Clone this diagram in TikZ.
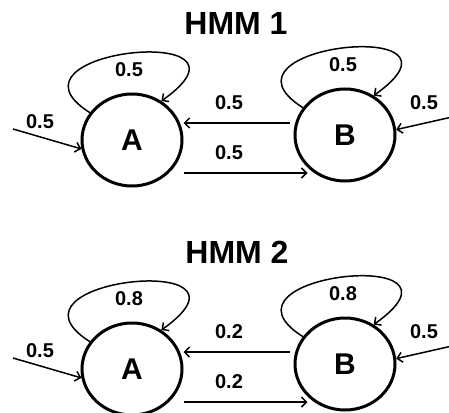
\documentclass[tikz,border=0pt]{standalone}
\usepackage{fontspec}
\setmainfont{Liberation Sans}
\usetikzlibrary{arrows.meta,shapes.geometric}

\tikzset{
	hmmstate/.style={ellipse, draw, line width=3pt, minimum width=100pt, minimum height=92pt, inner sep=0pt, font=\fontsize{30}{30}\selectfont\bfseries},
	hmmtitle/.style={font=\fontsize{32}{32}\selectfont\bfseries},
	prob/.style={font=\fontsize{20}{20}\selectfont\bfseries},
	arr/.style={line width=1.5pt, -{Straight Barb[length=5pt,width=10pt,line width=1.5pt]}}
}

\begin{document}
\begin{tikzpicture}[x=1pt, y=-1pt]
		%%%%% START %%%%%
		\useasboundingbox (0, 0) rectangle (449, 412);
		
		% HMM 1
		\node[hmmtitle] (t1) at (236, 23) {HMM 1};
		\node[hmmstate] (A1) at (132, 140) {A};
		\node[hmmstate] (B1) at (345, 135) {B};
		\coordinate (s1) at (13, 129);
		\coordinate (e1) at (452, 117);
		
		\draw[arr] (A1.147) .. controls +(-100, -63) and +(113, -80) .. (A1.53);
		\draw[arr] (B1.147) .. controls +(-100, -63) and +(113, -80) .. (B1.54);
		\draw[arr] ([xshift=-4pt, yshift=12pt]B1.west) -- ([yshift=17pt]A1.east);
		\draw[arr] ([yshift=-33pt]A1.east) -- ([xshift=14pt, yshift=-38pt]B1.west);
		\draw[arr] (s1) -- (A1.190);
		\draw[arr] (e1) -- (B1.6);
		
		\node[prob] (pa1) at (129, 70) {0.5};
		\node[prob] (pb1) at (343, 65) {0.5};
		\node[prob] (pba1) at (229, 103) {0.5};
		\node[prob] (pab1) at (229, 153) {0.5};
		\node[prob] (ps1) at (40, 122) {0.5};
		\node[prob] (pe1) at (424, 103) {0.5};
		
		% HMM 2
		\node[hmmtitle] (t2) at (237, 252) {HMM 2};
		\node[hmmstate] (A2) at (132, 369) {A};
		\node[hmmstate] (B2) at (345, 364) {B};
		\coordinate (s2) at (13, 358);
		\coordinate (e2) at (452, 346);
		
		\draw[arr] (A2.147) .. controls +(-100, -63) and +(113, -80) .. (A2.53);
		\draw[arr] (B2.147) .. controls +(-100, -63) and +(113, -80) .. (B2.54);
		\draw[arr] ([xshift=-4pt, yshift=12pt]B2.west) -- ([yshift=17pt]A2.east);
		\draw[arr] ([yshift=-33pt]A2.east) -- ([xshift=14pt, yshift=-38pt]B2.west);
		\draw[arr] (s2) -- (A2.190);
		\draw[arr] (e2) -- (B2.6);
		
		\node[prob] (pa2) at (129, 299) {0.8};
		\node[prob] (pb2) at (343, 294) {0.8};
		\node[prob] (pba2) at (229, 332) {0.2};
		\node[prob] (pab2) at (229, 382) {0.2};
		\node[prob] (ps2) at (40, 351) {0.5};
		\node[prob] (pe2) at (424, 332) {0.5};
		%%%%% END %%%%%
\end{tikzpicture}
\end{document}
